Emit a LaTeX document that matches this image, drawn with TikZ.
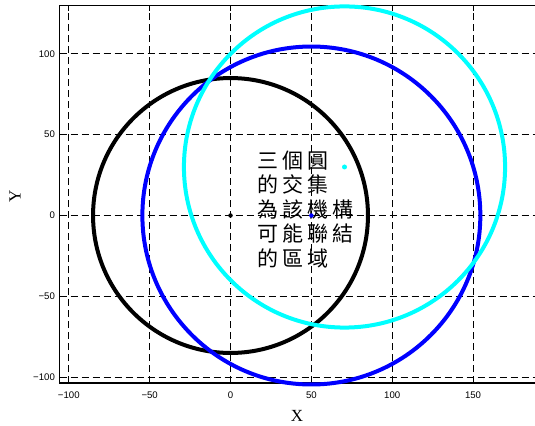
\documentclass[tikz,border=0pt]{standalone}
\usepackage{fontspec}
\setmainfont{Liberation Serif}
\newfontfamily\ticksfont{Liberation Sans}
\newfontfamily\cjkfont{Noto Sans CJK TC}
\definecolor{mblue}{RGB}{0,0,255}
\definecolor{mcyan}{RGB}{0,255,255}
\newcommand\cjkgap{\hspace{4pt}}
\newcommand\ticknum[1]{\ifnum#1<0 −\number\numexpr-#1\relax\else#1\fi}
\begin{document}
\begin{tikzpicture}[x=1.617pt,y=1.617pt,
  gridline/.style={black, line width=0.7pt, dash pattern=on 7pt off 4pt},
  axisline/.style={black, line width=1.1pt},
  tickmark/.style={black, line width=0.8pt},
  ticklabel/.style={font=\ticksfont\fontsize{9.6}{11}\selectfont, inner sep=0pt},
  axlabel/.style={font=\fontsize{17}{20}\selectfont, inner sep=0pt},
  ring/.style={line width=4pt},
  centerdot/.style={circle, inner sep=0pt, minimum size=4.5pt}
]
\useasboundingbox (-142.55,-129.56) rectangle (188.3,133.27);
\def\xl{-105.7}
\def\xr{188.3}
\def\yb{-103.6}
\def\yt{129.7}
% grid
\foreach \x in {-100,-50,...,150} \draw[gridline] (\x,\yb) -- (\x,\yt);
\foreach \y in {-100,-50,...,100} \draw[gridline] (\xl,\y) -- (\xr,\y);
% ticks
\foreach \x in {-100,-50,...,150} {
  \draw[tickmark] (\x,\yb) -- ++(0,3);
  \draw[tickmark] (\x,\yt) -- ++(0,-3);
}
\foreach \y in {-100,-50,...,100} \draw[tickmark] (\xl,\y) -- ++(3,0);
% axes box
\draw[axisline] (\xr,\yt) -- (\xl,\yt) -- (\xl,\yb) -- (\xr,\yb);
% tick labels
\foreach \x in {-100,-50,...,150} \node[ticklabel] (xt\x) at (\x,-111) {\ticknum{\x}};
\foreach \y in {-100,-50,...,100} \node[ticklabel, anchor=east] (yt\y) at (-108.5,\y) {\ticknum{\y}};
% axis labels
\node[axlabel] (xlab) at (41.1,-124) {X};
\node[axlabel, rotate=90] (ylab) at (-133.3,12) {Y};
% circles
\draw[ring, black] (0,0) circle[radius=85];
\draw[ring, mblue] (50,0) circle[radius=104.5];
\draw[ring, mcyan] (70.5,30) circle[radius=99.3];
% note
\node[font=\cjkfont\fontsize{21}{24.5}\selectfont, align=left, anchor=west, inner sep=0pt] (note) at (16.3,3.7)
 {三\cjkgap 個\cjkgap 圓\\的\cjkgap 交\cjkgap 集\\為\cjkgap 該\cjkgap 機\cjkgap 構\\可\cjkgap 能\cjkgap 聯\cjkgap 結\\的\cjkgap 區\cjkgap 域};
% centre dots
\node[centerdot, fill=black] (c1) at (0,0) {};
\node[centerdot, fill=mblue] (c2) at (50,0) {};
\node[centerdot, fill=mcyan, minimum size=5pt] (c3) at (70.5,30) {};
\end{tikzpicture}
\end{document}
